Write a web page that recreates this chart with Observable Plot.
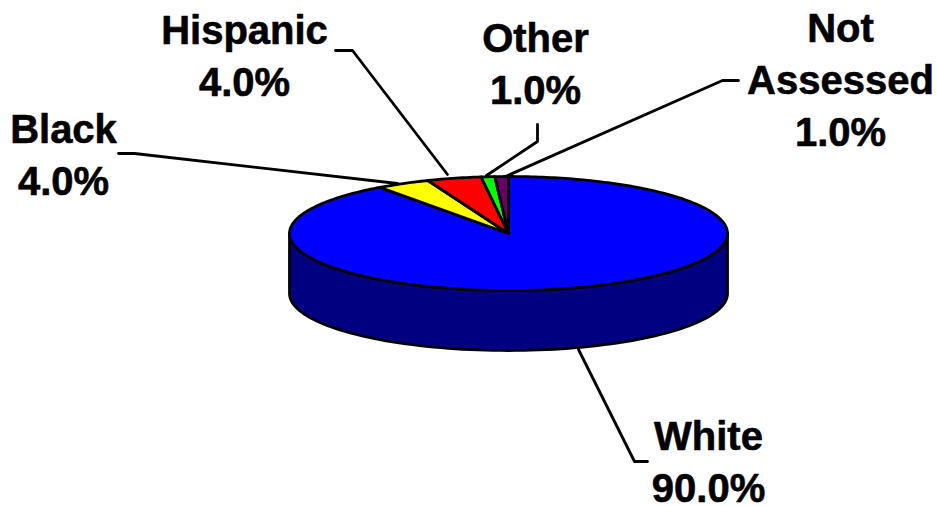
<!DOCTYPE html>
<html>
<head>
<meta charset="utf-8">
<script src="https://cdn.jsdelivr.net/npm/d3@7"></script>
<script src="https://cdn.jsdelivr.net/npm/@observablehq/plot@0.6"></script>
<style>html,body{margin:0;padding:0;background:#fff}svg{display:block}</style>
</head>
<body>
<div id="chart"></div>
<script>
// Data, clockwise from 12 o'clock
const categories = ["White", "Black", "Hispanic", "Other", "Not Assessed"];
const shares = [90, 4, 4, 1, 1];
const sliceColors = ["#0000ff", "#ffff00", "#ff0000", "#00ff00", "#660066"];
const labelNames = ["White", "Black", "Hispanic", "Other", "Not\nAssessed"];
const labelX = [708, 63, 244, 535, 840];
const labelY = [459, 152, 53, 61, 77];
const leaderX = [[578, 634, 647], [397, 134, 118], [447, 352, 335], [486, 537, 537], [505, 722, 738]];
const leaderY = [[349, 461, 461], [183, 153, 153], [174, 50, 50], [175, 141, 124], [176, 80, 80]];

// Projection of the tilted disc
const cx = 508, cy = 233, rx = 219, ry = 57, depth = 60;
const pt = (deg, dy = 0) => {
  const a = deg * Math.PI / 180;
  return {x: cx + rx * Math.sin(a), y: cy - ry * Math.cos(a) + dy};
};

// Top-face slices
let start = 0;
const slicePts = [];
categories.forEach((c, i) => {
  const sweep = shares[i] * 3.6, n = Math.max(4, Math.ceil(sweep));
  slicePts.push({x: cx, y: cy, c});
  for (let k = 0; k <= n; k++) slicePts.push({...pt(start + sweep * k / n), c});
  slicePts.push({x: cx, y: cy, c});
  start += sweep;
});

// Front wall of the disc
const wall = [];
for (let d = 90; d <= 270; d += 2) wall.push(pt(d));
for (let d = 270; d >= 90; d -= 2) wall.push(pt(d, depth));
wall.push(wall[0]);

const leaders = leaderX.flatMap((xs, i) => xs.map((x, j) => ({x, y: leaderY[i][j], c: categories[i]})));
const labels = categories.map((c, i) => ({
  text: `${labelNames[i]}\n${shares[i].toFixed(1)}%`, x: labelX[i], y: labelY[i]
}));

const chart = Plot.plot({
  width: 937, height: 506,
  marginTop: 0, marginRight: 0, marginBottom: 0, marginLeft: 0,
  x: {domain: [0, 937], range: [0, 937], axis: null},
  y: {domain: [0, 506], range: [0, 506], axis: null},
  color: {domain: categories, range: sliceColors},
  marks: [
    Plot.line(leaders, {x: "x", y: "y", z: "c", stroke: "#000", strokeWidth: 2.8, curve: "linear"}),
    Plot.line(wall, {x: "x", y: "y", fill: "#000080", stroke: "#000", strokeWidth: 2.8, curve: "linear"}),
    Plot.line(slicePts, {x: "x", y: "y", z: "c", fill: "c", stroke: "#000", strokeWidth: 2.8, curve: "linear", strokeLinejoin: "round"}),
    Plot.text(labels, {
      x: "x", y: "y", text: "text", lineAnchor: "middle", textAnchor: "middle",
      fontSize: 40, fontWeight: "bold", fontFamily: "Liberation Sans", fill: "#000", lineHeight: 1.29,
      stroke: "#000", strokeWidth: 0.6
    })
  ]
});
document.getElementById("chart").append(chart);
</script>
</body>
</html>
